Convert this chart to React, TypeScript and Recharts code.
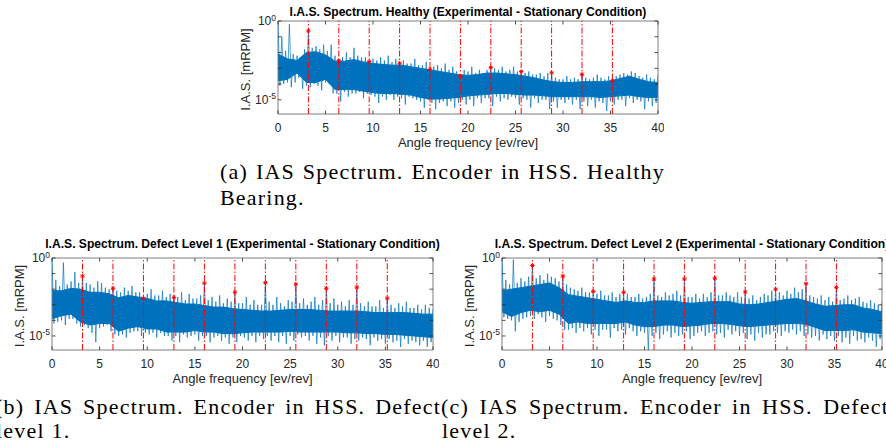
import React from 'react';
import { ComposedChart, Line, Area, Scatter, XAxis, YAxis, ReferenceLine, ReferenceArea } from 'recharts';

// ---------- DATA (log10 of I.A.S. amplitude in mRPM) ----------
const harmonics = [3.2, 6.4, 9.6, 12.8, 16, 19.2, 22.4, 25.6, 28.8, 32, 35.2];
const xTicks = [0, 5, 10, 15, 20, 25, 30, 35, 40];
const yTicks = [0, -1, -2, -3, -4, -5];
const yLabelled = [0, -5];

const coreFreqs = [0,1,2,3,4,5,6,7,8,9,10,11,12,13,14,15,16,17,18,19,20,21,22,23,24,25,26,27,28,29,30,31,32,33,34,35,36,37,38,39,40];

const spikeFreqs = [
  0,0.2,0.4,0.6,0.8,1,1.2,1.4,1.6,1.8,
  2,2.2,2.4,2.6,2.8,3,3.2,3.4,3.6,3.8,
  4,4.2,4.4,4.6,4.8,5,5.2,5.4,5.6,5.8,
  6,6.2,6.4,6.6,6.8,7,7.2,7.4,7.6,7.8,
  8,8.2,8.4,8.6,8.8,9,9.2,9.4,9.6,9.8,
  10,10.2,10.4,10.6,10.8,11,11.2,11.4,11.6,11.8,
  12,12.2,12.4,12.6,12.8,13,13.2,13.4,13.6,13.8,
  14,14.2,14.4,14.6,14.8,15,15.2,15.4,15.6,15.8,
  16,16.2,16.4,16.6,16.8,17,17.2,17.4,17.6,17.8,
  18,18.2,18.4,18.6,18.8,19,19.2,19.4,19.6,19.8,
  20,20.2,20.4,20.6,20.8,21,21.2,21.4,21.6,21.8,
  22,22.2,22.4,22.6,22.8,23,23.2,23.4,23.6,23.8,
  24,24.2,24.4,24.6,24.8,25,25.2,25.4,25.6,25.8,
  26,26.2,26.4,26.6,26.8,27,27.2,27.4,27.6,27.8,
  28,28.2,28.4,28.6,28.8,29,29.2,29.4,29.6,29.8,
  30,30.2,30.4,30.6,30.8,31,31.2,31.4,31.6,31.8,
  32,32.2,32.4,32.6,32.8,33,33.2,33.4,33.6,33.8,
  34,34.2,34.4,34.6,34.8,35,35.2,35.4,35.6,35.8,
  36,36.2,36.4,36.6,36.8,37,37.2,37.4,37.6,37.8,
  38,38.2,38.4,38.6,38.8,39,39.2,39.4,39.6,39.8,
  40,
];

// Healthy
const healthyHi = [-2.1,-2.4,-2.5,-2.0,-1.95,-2.15,-2.55,-2.55,-2.45,-2.6,-2.7,-2.75,-2.8,-2.8,-2.9,-3.0,-3.1,-3.2,-3.3,-3.4,-3.45,-3.4,-3.3,-3.3,-3.35,-3.4,-3.5,-3.6,-3.75,-3.85,-3.9,-3.9,-3.85,-3.85,-3.85,-3.8,-3.65,-3.5,-3.7,-3.85,-3.9];
const healthyLo = [-3.8,-3.7,-3.3,-3.9,-3.9,-3.7,-4.35,-4.35,-4.35,-4.45,-4.55,-4.6,-4.6,-4.65,-4.7,-4.85,-4.95,-4.95,-4.9,-4.85,-4.75,-4.7,-4.65,-4.6,-4.6,-4.65,-4.7,-4.7,-4.75,-4.8,-4.8,-4.8,-4.8,-4.8,-4.85,-4.8,-4.75,-4.7,-4.8,-4.85,-4.85];
const healthySpikes = [
  0,-4.1,-1.0,-4.0,-1.9, -3.9,-0.2,-4.2,-2.1,-3.9,
  -2.2,-3.6,-2.3,-4.3,-1.8, -4.1,-0.63,-4.2,-1.7,-4.0,
  -1.6,-4.1,-1.8,-4.4,-1.5, -3.9,-1.9,-4.0,-1.5,-4.6,
  -2.2,-4.6,-2.52,-5.1,-2.3, -4.5,-2.0,-4.8,-2.3,-4.6,
  -1.7,-4.6,-2.2,-4.5,-2.3, -4.9,-2.3,-4.6,-2.58,-4.7,
  -2.4,-4.8,-2.5,-5.2,-2.3, -4.8,-2.5,-5.0,-2.2,-4.7,
  -2.6,-5.0,-2.4,-4.8,-2.68, -4.9,-2.5,-5.3,-2.7,-4.8,
  -2.7,-4.9,-2.4,-5.0,-2.8, -5.1,-2.8,-5.5,-2.6,-5.0,
  -3.06,-5.2,-2.9,-5.6,-2.8, -5.2,-3.0,-5.1,-2.7,-5.4,
  -3.1,-5.1,-2.9,-5.5,-3.2, -5.2,-3.5,-5.0,-3.1,-5.3,
  -3.2,-5.0,-2.9,-5.4,-3.3, -4.9,-3.1,-5.2,-3.3,-4.9,
  -3.1,-4.9,-2.96,-5.4,-3.0, -4.8,-3.1,-5.1,-2.9,-4.9,
  -3.2,-5.0,-3.1,-4.8,-2.9, -4.9,-3.2,-5.3,-3.21,-4.9,
  -3.3,-5.0,-3.2,-5.5,-3.4, -4.9,-3.4,-5.2,-3.3,-5.0,
  -3.5,-5.0,-3.3,-5.6,-3.29, -5.1,-3.6,-5.5,-3.7,-5.0,
  -3.7,-5.2,-3.5,-5.0,-3.7, -5.3,-3.6,-5.0,-3.7,-5.6,
  -3.38,-5.1,-3.6,-5.4,-3.7, -5.0,-3.6,-5.5,-3.4,-5.1,
  -3.6,-5.2,-3.7,-5.7,-3.5, -5.1,-3.79,-5.3,-3.5,-5.0,
  -3.4,-5.0,-3.3,-5.4,-3.4, -4.9,-3.2,-5.2,-3.3,-5.0,
  -3.5,-5.1,-3.6,-5.6,-3.4, -5.1,-3.6,-5.4,-3.7,-5.2,
  -3.4,
];
const healthyPeaks = [-0.63,-2.52,-2.58,-2.68,-3.06,-3.5,-2.96,-3.21,-3.29,-3.38,-3.79];

// Defect level 1
const defect1Hi = [-2.1,-2.1,-1.95,-2.0,-2.2,-2.2,-2.3,-2.55,-2.4,-2.5,-2.6,-2.75,-2.75,-2.85,-2.95,-2.95,-3.05,-3.15,-3.15,-3.25,-3.3,-3.35,-3.4,-3.4,-3.35,-3.3,-3.3,-3.3,-3.35,-3.4,-3.4,-3.4,-3.4,-3.45,-3.5,-3.5,-3.5,-3.5,-3.55,-3.6,-3.6];
const defect1Lo = [-3.9,-3.7,-3.6,-4.1,-4.3,-4.2,-4.2,-4.7,-4.5,-4.4,-4.55,-4.55,-4.75,-4.75,-4.75,-4.65,-4.75,-4.75,-4.85,-4.85,-4.8,-4.75,-4.75,-4.75,-4.75,-4.7,-4.75,-4.75,-4.75,-4.75,-4.75,-4.8,-4.8,-4.85,-4.85,-4.9,-4.9,-4.95,-5.0,-5.05,-5.1];
const defect1Spikes = [
  0,-4.2,-1.4,-4.1,-1.8, -4.0,-0.3,-4.3,-1.7,-3.9,
  -1.5,-3.9,-0.9,-4.2,-1.6, -4.4,-1.16,-4.3,-1.6,-4.5,
  -1.7,-4.8,-1.9,-5.4,-1.5, -4.5,-1.6,-4.4,-1.9,-4.3,
  -2.0,-4.7,-1.94,-4.9,-2.1, -5.0,-2.2,-4.9,-1.9,-5.1,
  -2.1,-4.8,-1.8,-4.7,-2.2, -4.7,-2.2,-5.0,-2.58,-4.8,
  -2.3,-4.9,-2.0,-4.8,-2.4, -5.1,-2.4,-4.8,-2.1,-5.0,
  -2.5,-5.0,-2.3,-5.3,-2.52, -5.0,-2.5,-5.4,-2.2,-4.9,
  -2.7,-5.1,-2.3,-5.0,-2.6, -4.9,-2.6,-5.3,-2.4,-5.0,
  -1.61,-5.0,-2.7,-5.4,-2.5, -5.1,-2.8,-5.0,-2.4,-5.3,
  -2.9,-5.1,-2.6,-5.5,-2.8, -5.1,-2.2,-5.4,-2.9,-5.0,
  -2.9,-5.1,-2.5,-5.3,-3.0, -5.0,-2.7,-5.4,-3.0,-5.0,
  -3.0,-5.2,-1.58,-5.0,-2.8, -5.3,-3.0,-5.0,-2.5,-5.4,
  -2.9,-5.0,-3.1,-5.5,-2.7, -5.0,-2.8,-5.3,-1.68,-4.9,
  -2.9,-5.1,-2.6,-5.0,-3.0, -5.3,-2.8,-5.0,-2.5,-5.5,
  -3.0,-5.1,-2.7,-5.6,-1.94, -5.0,-2.9,-5.3,-2.6,-5.0,
  -3.0,-5.4,-2.8,-5.1,-3.1, -5.1,-2.7,-5.5,-3.0,-5.2,
  -1.87,-5.3,-2.9,-5.1,-3.1, -5.2,-2.8,-5.6,-3.1,-5.1,
  -3.1,-5.3,-2.7,-5.2,-3.2, -5.5,-2.57,-5.2,-3.0,-5.4,
  -3.2,-5.3,-2.9,-5.7,-3.1, -5.2,-2.8,-5.5,-3.2,-5.3,
  -3.2,-5.4,-3.0,-5.6,-3.3, -5.3,-3.0,-5.7,-3.2,-5.4,
  -3.3,
];
const defect1Peaks = [-1.16,-1.94,-2.58,-2.52,-1.61,-2.2,-1.58,-1.68,-1.94,-1.87,-2.57];

// Defect level 2
const defect2Hi = [-2.1,-2.0,-1.9,-1.8,-1.7,-1.6,-1.9,-2.35,-2.45,-2.55,-2.65,-2.75,-2.85,-2.75,-2.85,-2.85,-2.75,-2.75,-2.75,-2.85,-2.9,-2.85,-2.8,-2.8,-2.8,-2.95,-3.0,-2.95,-2.85,-2.75,-2.65,-2.6,-2.75,-2.95,-3.1,-3.05,-3.0,-3.0,-3.2,-3.3,-3.45];
const defect2Lo = [-3.45,-3.75,-3.5,-3.35,-3.45,-3.35,-3.6,-4.2,-4.1,-4.2,-4.2,-4.2,-4.2,-4.1,-4.3,-4.4,-4.4,-4.3,-4.3,-4.4,-4.35,-4.3,-4.2,-4.2,-4.25,-4.35,-4.4,-4.35,-4.3,-4.25,-4.2,-4.2,-4.25,-4.45,-4.65,-4.65,-4.65,-4.6,-4.75,-4.8,-4.85];
const defect2Spikes = [
  0,-3.8,-1.4,-3.9,-1.7, -4.0,-0.1,-4.7,-1.6,-4.1,
  -1.3,-3.9,-1.5,-3.8,-1.2, -3.7,-0.48,-3.9,-1.3,-3.6,
  -1.1,-3.8,-1.4,-4.1,-1.0, -3.7,-1.2,-3.9,-1.3,-4.0,
  -1.5,-4.3,-1.16,-4.6,-1.7, -4.6,-1.9,-4.5,-2.0,-4.8,
  -2.1,-4.5,-1.9,-4.7,-2.2, -4.5,-2.2,-4.9,-2.14,-4.6,
  -2.3,-5.0,-2.1,-4.6,-2.4, -4.6,-2.4,-5.1,-2.2,-4.5,
  -2.5,-4.7,-2.3,-4.6,-2.2, -4.9,-2.3,-4.5,-2.5,-4.7,
  -2.5,-5.0,-2.3,-4.7,-2.6, -4.8,-2.5,-5.9,-2.3,-5.0,
  -1.35,-4.8,-2.4,-5.2,-2.5, -4.9,-2.2,-4.7,-2.4,-5.1,
  -2.3,-4.8,-2.1,-5.0,-2.4, -4.9,-1.35,-4.7,-2.5,-5.2,
  -2.5,-5.0,-2.3,-4.8,-2.6, -4.7,-2.3,-5.0,-2.5,-4.8,
  -2.2,-4.7,-1.3,-4.9,-2.4, -4.8,-2.4,-5.1,-2.2,-4.6,
  -2.4,-4.9,-2.5,-4.7,-2.2, -5.0,-2.5,-4.8,-2.18,-5.2,
  -2.6,-4.9,-2.4,-5.3,-2.7, -4.8,-2.5,-5.1,-2.3,-4.9,
  -2.4,-4.9,-2.1,-4.7,-2.0, -4.8,-2.2,-5.0,-2.4,-4.7,
  -2.1,-4.8,-2.3,-4.6,-1.9, -4.9,-2.2,-4.7,-2.0,-5.0,
  -1.65,-4.9,-2.4,-5.1,-2.5, -5.0,-2.6,-5.3,-2.4,-4.9,
  -2.7,-5.2,-2.5,-5.0,-2.8, -5.3,-1.88,-5.0,-2.7,-5.4,
  -2.6,-5.1,-2.4,-5.5,-2.7, -5.0,-2.6,-5.3,-2.5,-5.2,
  -2.8,-5.4,-2.9,-5.1,-2.7, -5.3,-2.9,-5.7,-3.0,-5.2,
  -2.8,
];
const defect2Peaks = [-0.48,-1.16,-2.14,-2.2,-1.35,-1.35,-1.3,-2.18,-2.0,-1.65,-1.88];

// ---------- STYLE ----------
const BLUE = '#0072BD';
const AXIS = '#262626';
const SANS = '"Liberation Sans", Arial, Helvetica, sans-serif';
const SERIF = '"Liberation Serif", "Times New Roman", serif';
const Y_MIN = -5.9;
const TICK_LEN = 3.5;

type PanelProps = {
  title: string;
  hi: number[];
  lo: number[];
  spikes: number[];
  peaks: number[];
  plotLeft: number;
  plotTop: number;
  plotW: number;
  plotH: number;
  titleY: number;
};

const Asterisk = (p: any) => {
  const { cx, cy } = p;
  if (cx == null || cy == null) return <g />;
  const r = 2.2;
  const d = 1.6;
  return (
    <g stroke="#FF0000" strokeWidth={1}>
      <line x1={cx - r} y1={cy} x2={cx + r} y2={cy} />
      <line x1={cx} y1={cy - r} x2={cx} y2={cy + r} />
      <line x1={cx - d} y1={cy - d} x2={cx + d} y2={cy + d} />
      <line x1={cx - d} y1={cy + d} x2={cx + d} y2={cy - d} />
    </g>
  );
};

function Panel(props: PanelProps) {
  const { title, hi, lo, spikes, peaks, plotLeft, plotTop, plotW, plotH, titleY } = props;
  const YW = 45;
  const XH = 40;
  const MT = 12;
  const MR = 6;

  const coreData = coreFreqs.map((f, i) => ({ f, range: [lo[i], hi[i]] }));
  const spikeData = spikeFreqs.map((f, i) => ({ f, v: spikes[i] }));
  const peakData = harmonics.map((f, i) => ({ f, v: peaks[i] }));

  const XTick = (p: any) => {
    const { x, y, payload } = p;
    return (
      <g>
        <line x1={x} y1={y} x2={x} y2={y - TICK_LEN} stroke={AXIS} strokeWidth={0.8} />
        <line x1={x} y1={y - plotH} x2={x} y2={y - plotH + TICK_LEN} stroke={AXIS} strokeWidth={0.8} />
        <text x={x} y={y + 17.8} textAnchor="middle" fontFamily={SANS} fontSize={12} fill={AXIS}>
          {payload.value}
        </text>
      </g>
    );
  };

  const YTick = (p: any) => {
    const { x, y, payload } = p;
    const v = payload.value;
    return (
      <g>
        <line x1={x} y1={y} x2={x + TICK_LEN} y2={y} stroke={AXIS} strokeWidth={0.8} />
        <line x1={x + plotW - TICK_LEN} y1={y} x2={x + plotW} y2={y} stroke={AXIS} strokeWidth={0.8} />
        {yLabelled.includes(v) ? (
          <text x={x - 2} y={y + 4} textAnchor="end" fontFamily={SANS} fontSize={12} fill={AXIS}>
            <tspan>10</tspan>
            <tspan dy={-4.5} fontSize={8.5}>{String(v)}</tspan>
          </text>
        ) : null}
      </g>
    );
  };

  const XLabel = (p: any) => {
    const vb = p.viewBox || {};
    return (
      <text x={vb.x + vb.width / 2} y={vb.y + 33.2} textAnchor="middle" fontFamily={SANS} fontSize={13} fill={AXIS}>
        Angle frequency [ev/rev]
      </text>
    );
  };

  const YLabel = (p: any) => {
    const vb = p.viewBox || {};
    const cx = vb.x + vb.width - 28.5;
    const cy = vb.y + vb.height / 2 + 2;
    return (
      <text x={cx} y={cy} transform={`rotate(-90 ${cx} ${cy})`} textAnchor="middle" fontFamily={SANS} fontSize={13} fill={AXIS}>
        I.A.S. [mRPM]
      </text>
    );
  };

  return (
    <>
      <div
        style={{
          position: 'absolute',
          left: plotLeft + plotW / 2 - 300,
          top: titleY - 8,
          width: 600,
          textAlign: 'center',
          fontFamily: SANS,
          fontWeight: 'bold',
          fontSize: 12.1,
          lineHeight: '16px',
          color: '#000',
          whiteSpace: 'nowrap',
        }}
      >
        {title}
      </div>
      <div style={{ position: 'absolute', left: plotLeft - YW, top: plotTop - MT }}>
        <ComposedChart
          width={YW + plotW + MR}
          height={MT + plotH + XH}
          margin={{ top: MT, right: MR, bottom: 0, left: 0 }}
        >
          <XAxis
            type="number"
            dataKey="f"
            domain={[0, 40]}
            ticks={xTicks}
            interval={0}
            allowDataOverflow
            height={XH}
            tickSize={0}
            tickMargin={0}
            axisLine={false}
            tickLine={false}
            tick={XTick}
            label={{ content: XLabel }}
          />
          <YAxis
            type="number"
            domain={[Y_MIN, 0]}
            ticks={yTicks}
            interval={0}
            allowDataOverflow
            width={YW}
            tickSize={0}
            tickMargin={0}
            axisLine={false}
            tickLine={false}
            tick={YTick}
            label={{ content: YLabel }}
          />
          <Area
            data={coreData}
            dataKey="range"
            type="linear"
            stroke={BLUE}
            strokeWidth={1}
            fill={BLUE}
            fillOpacity={1}
            isAnimationActive={false}
            dot={false}
            activeDot={false}
          />
          <Line
            data={spikeData}
            dataKey="v"
            type="linear"
            stroke={BLUE}
            strokeOpacity={0.72}
            strokeWidth={0.95}
            dot={false}
            activeDot={false}
            isAnimationActive={false}
          />
          {harmonics.map((h) => (
            <ReferenceLine key={h} x={h} stroke="#FF0000" strokeWidth={1} strokeDasharray="6 2 1.5 2" />
          ))}
          <Scatter data={peakData} dataKey="v" shape={Asterisk} isAnimationActive={false} />
          <ReferenceArea x1={0} x2={40} y1={Y_MIN} y2={0} fill="none" stroke="#7f7f7f" strokeWidth={1} />
        </ComposedChart>
      </div>
    </>
  );
}

const captionStyle: React.CSSProperties = {
  position: 'absolute',
  fontFamily: SERIF,
  fontSize: 22,
  lineHeight: '26px',
  color: '#000',
  whiteSpace: 'nowrap',
  letterSpacing: '1.2px',
};

function JustLine({ left, baseline, width, text }: { left: number; baseline: number; width: number; text: string }) {
  return (
    <div
      style={{
        ...captionStyle,
        left,
        top: baseline - 20,
        width,
        whiteSpace: 'normal',
        textAlign: 'justify',
        textAlignLast: 'justify',
      }}
    >
      {text}
    </div>
  );
}

export default function App() {
  return (
    <div
      style={{
        position: 'fixed',
        left: 0,
        top: 0,
        width: 886,
        height: 447,
        overflow: 'hidden',
        background: '#fff',
      }}
    >
      <Panel
        title="I.A.S. Spectrum. Healthy (Experimental - Stationary Condition)"
        hi={healthyHi}
        lo={healthyLo}
        spikes={healthySpikes}
        peaks={healthyPeaks}
        plotLeft={278}
        plotTop={21}
        plotW={380}
        plotH={93}
        titleY={11.5}
      />
      <Panel
        title="I.A.S. Spectrum. Defect Level 1 (Experimental - Stationary Condition)"
        hi={defect1Hi}
        lo={defect1Lo}
        spikes={defect1Spikes}
        peaks={defect1Peaks}
        plotLeft={52}
        plotTop={258}
        plotW={381}
        plotH={92}
        titleY={244}
      />
      <Panel
        title="I.A.S. Spectrum. Defect Level 2 (Experimental - Stationary Condition)"
        hi={defect2Hi}
        lo={defect2Lo}
        spikes={defect2Spikes}
        peaks={defect2Peaks}
        plotLeft={502}
        plotTop={258}
        plotW={380}
        plotH={92}
        titleY={244}
      />

      <JustLine left={220} baseline={179} width={445} text="(a) IAS Spectrum.  Encoder in HSS. Healthy" />
      <div style={{ ...captionStyle, left: 220, top: 205 - 20 }}>Bearing.</div>

      <JustLine left={-5} baseline={414} width={446} text="(b) IAS Spectrum.  Encoder in HSS. Defect" />
      <div style={{ ...captionStyle, left: -4, top: 438 - 20 }}>level 1.</div>

      <JustLine left={441} baseline={414} width={448} text="(c) IAS Spectrum.  Encoder in HSS. Defect" />
      <div style={{ ...captionStyle, left: 442, top: 438 - 20 }}>level 2.</div>
    </div>
  );
}
